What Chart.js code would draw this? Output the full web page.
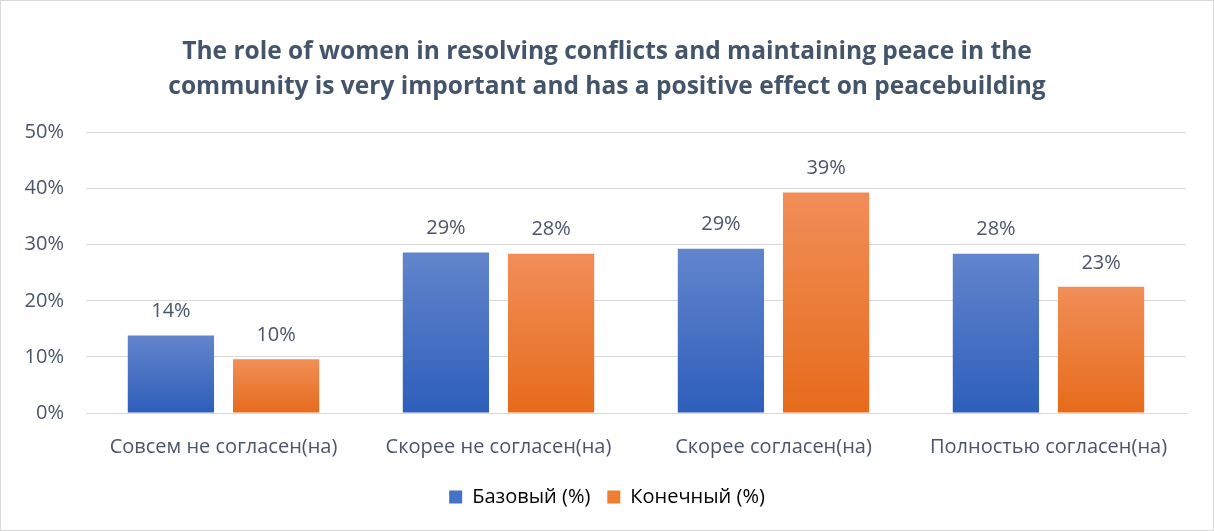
<!DOCTYPE html>
<html>
<head>
<meta charset="utf-8">
<script src="https://cdn.jsdelivr.net/npm/chart.js@4/dist/chart.umd.min.js"></script>
<style>
  html, body { margin: 0; padding: 0; background: #fff; }
  #wrap { width: 1212px; height: 529px; border: 1px solid #D9D9D9; position: relative; }
</style>
</head>
<body>
<div id="wrap"><canvas id="c"></canvas></div>
<script>
const categories = ['Совсем не согласен(на)', 'Скорее не согласен(на)', 'Скорее согласен(на)', 'Полностью согласен(на)'];
const baseValues = [13.8, 28.6, 29.3, 28.4];
const finalValues = [9.6, 28.4, 39.3, 22.5];
const seriesNames = ['Базовый (%)', 'Конечный (%)'];
const titleLines = [
  'The role of women in resolving conflicts and maintaining peace in the',
  'community is very important and has a positive effect on peacebuilding'
];
const yTicks = [0, 10, 20, 30, 40, 50];

const FONT = '"Open Sans", Lato, sans-serif';
const TEXT = '#4A5568';

// vertical gradient per bar, lighter at the top
function barGradient(top, bottom) {
  return ctx => {
    const chart = ctx.chart;
    const y = chart.scales.y;
    if (!chart.chartArea || !y || ctx.raw == null) return bottom;
    const y0 = y.getPixelForValue(0);
    const y1 = y.getPixelForValue(ctx.raw);
    const g = chart.ctx.createLinearGradient(0, y1, 0, y0);
    g.addColorStop(0, top);
    g.addColorStop(1, bottom);
    return g;
  };
}

const valueLabels = {
  id: 'valueLabels',
  afterDatasetsDraw(chart) {
    const { ctx } = chart;
    ctx.save();
    ctx.font = '20px ' + FONT;
    ctx.fillStyle = TEXT;
    ctx.textAlign = 'center';
    ctx.textBaseline = 'bottom';
    chart.data.datasets.forEach((ds, i) => {
      chart.getDatasetMeta(i).data.forEach((bar, j) => {
        ctx.fillText(Math.round(ds.data[j]) + '%', bar.x, bar.y - 14);
      });
    });
    ctx.restore();
  }
};

// title and legend centred on the whole canvas, not the padded area
const centerBlocks = {
  id: 'centerBlocks',
  afterLayout(chart) {
    [chart.titleBlock, chart.legend].forEach(b => {
      if (!b) return;
      b.left = 0;
      b.right = chart.width;
      b.width = chart.width;
    });
  }
};

new Chart(document.getElementById('c'), {
  type: 'bar',
  data: {
    labels: categories,
    datasets: [
      {
        label: seriesNames[0],
        data: baseValues,
        backgroundColor: barGradient('#6285CC', '#2E5EBB'),
        categoryPercentage: 0.765,
        barPercentage: 0.82,
      },
      {
        label: seriesNames[1],
        data: finalValues,
        backgroundColor: barGradient('#F18E58', '#E66B1B'),
        categoryPercentage: 0.765,
        barPercentage: 0.82,
      },
    ],
  },
  options: {
    responsive: true,
    maintainAspectRatio: false,
    animation: false,
    layout: { padding: { left: 8, right: 27, top: 20, bottom: 13 } },
    plugins: {
      title: {
        display: true,
        text: titleLines,
        color: '#44546A',
        font: { family: FONT, size: 24.5, weight: 'bold', lineHeight: 1.42 },
        padding: { top: 14, bottom: 28 },
      },
      legend: {
        position: 'bottom',
        labels: {
          color: TEXT,
          font: { family: FONT, size: 20 },
          boxWidth: 13,
          boxHeight: 13,
          padding: 17,
          generateLabels(chart) {
            const cols = ['#4472C4', '#ED7D31'];
            return chart.data.datasets.map((ds, i) => ({
              text: ds.label, fillStyle: cols[i], strokeStyle: cols[i], lineWidth: 0, datasetIndex: i,
            }));
          },
        },
      },
      tooltip: { enabled: false },
    },
    scales: {
      x: {
        afterFit: axis => { axis.height -= 3; },
        grid: { display: false },
        border: { display: true, color: '#D9D9D9' },
        ticks: { color: TEXT, font: { family: FONT, size: 20 }, padding: 14, maxRotation: 0, autoSkip: false },
      },
      y: {
        min: 0,
        max: 50,
        afterBuildTicks: axis => { axis.ticks = yTicks.map(v => ({ value: v })); },
        afterFit: axis => { axis.width = 77; },
        grid: { color: '#D9D9D9', drawTicks: false },
        border: { display: false },
        ticks: { color: TEXT, font: { family: FONT, size: 20 }, padding: 22, callback: v => v + '%' },
      },
    },
  },
  plugins: [valueLabels, centerBlocks],
});
</script>
</body>
</html>
